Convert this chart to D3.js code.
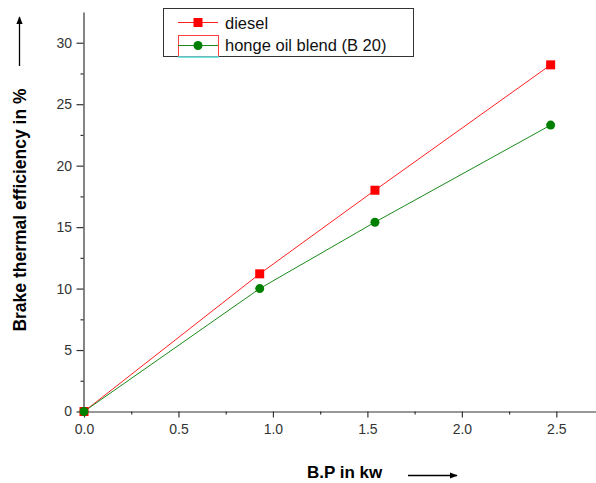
<!DOCTYPE html>
<html>
<head>
<meta charset="utf-8">
<script src="https://cdn.jsdelivr.net/npm/d3@7"></script>
<style>
  body { margin: 0; background: #fff; }
  svg { display: block; font-family: Arial, "Liberation Sans", sans-serif; }
</style>
</head>
<body>
<svg width="596" height="483"></svg>
<script>
// data
const bp = [0, 0.93, 1.54, 2.47];
const diesel = [0, 11.2, 18.0, 28.2];
const honge = [0, 10.0, 15.4, 23.3];
const xTicks = [0, 0.5, 1.0, 1.5, 2.0, 2.5];
const yTicks = [0, 5, 10, 15, 20, 25, 30];
const seriesNames = ["diesel", "honge oil blend (B 20)"];

const svg = d3.select("svg");
const x = d3.scaleLinear().domain([0, 2.71]).range([84, 596]);
const y = d3.scaleLinear().domain([0, 32.5]).range([411.5, 12]);

// minor ticks
const xMinor = d3.range(0.25, 2.7, 0.5);
const yMinor = d3.range(2.5, 32.5, 5);

const axX = svg.append("g").attr("transform", "translate(0,411.5)")
  .call(d3.axisBottom(x).tickValues(xTicks).tickFormat(d3.format(".1f")).tickSize(6).tickSizeOuter(0));
svg.append("g").attr("transform", "translate(0,411.5)")
  .call(d3.axisBottom(x).tickValues(xMinor).tickFormat("").tickSize(3).tickSizeOuter(0))
  .select(".domain").remove();
const axY = svg.append("g").attr("transform", "translate(83.5,0)")
  .call(d3.axisLeft(y).tickValues(yTicks).tickSize(7).tickSizeOuter(0));
svg.append("g").attr("transform", "translate(83.5,0)")
  .call(d3.axisLeft(y).tickValues(yMinor).tickFormat("").tickSize(3).tickSizeOuter(0))
  .select(".domain").remove();

svg.selectAll(".domain, .tick line").attr("stroke", "#333").attr("stroke-width", 1.2);
svg.selectAll(".tick text").attr("font-size", 14).attr("fill", "#333");
axX.selectAll(".tick text").attr("dy", "0.95em");
axY.selectAll(".tick text").attr("dx", "-0.1em");

// series
const line = d3.line().x(d => x(d[0])).y(d => y(d[1]));
const dPts = bp.map((v, i) => [v, diesel[i]]);
const hPts = bp.map((v, i) => [v, honge[i]]);

svg.append("path").datum(dPts).attr("d", line)
  .attr("fill", "none").attr("stroke", "#ff2020").attr("stroke-width", 1);
svg.append("path").datum(hPts).attr("d", line)
  .attr("fill", "none").attr("stroke", "#1a8a1a").attr("stroke-width", 1);

svg.selectAll(".sq").data(dPts).enter().append("rect")
  .attr("class", "sq")
  .attr("x", d => x(d[0]) - 4.5).attr("y", d => y(d[1]) - 4.5)
  .attr("width", 9).attr("height", 9).attr("fill", "#ff0000");
svg.selectAll(".dot").data(hPts).enter().append("circle")
  .attr("class", "dot")
  .attr("cx", d => x(d[0])).attr("cy", d => y(d[1]))
  .attr("r", 4.5).attr("fill", "#008000");

// legend
const lg = svg.append("g");
lg.append("rect").attr("x", 163.5).attr("y", 8.5).attr("width", 250).attr("height", 48)
  .attr("fill", "#fff").attr("stroke", "#333").attr("stroke-width", 1);
lg.append("rect").attr("x", 178.5).attr("y", 35.5).attr("width", 40).attr("height", 21)
  .attr("fill", "none").attr("stroke", "#ff4040").attr("stroke-width", 1);
lg.append("line").attr("x1", 178).attr("x2", 219).attr("y1", 57).attr("y2", 57)
  .attr("stroke", "#40e0e0").attr("stroke-width", 1.5);
lg.append("line").attr("x1", 178).attr("x2", 218).attr("y1", 22.5).attr("y2", 22.5)
  .attr("stroke", "#ff2020");
lg.append("rect").attr("x", 193.5).attr("y", 18).attr("width", 9).attr("height", 9).attr("fill", "#ff0000");
lg.append("line").attr("x1", 178).attr("x2", 218).attr("y1", 45.5).attr("y2", 45.5)
  .attr("stroke", "#1a8a1a");
lg.append("circle").attr("cx", 198).attr("cy", 45.5).attr("r", 4.5).attr("fill", "#008000");
lg.selectAll("text").data(seriesNames).enter().append("text")
  .attr("x", 225).attr("y", (d, i) => 28.5 + i * 22.5)
  .attr("font-size", 16.5).attr("fill", "#111").text(d => d);

// axis titles
svg.append("text")
  .attr("transform", "translate(26,210) rotate(-90)")
  .attr("text-anchor", "middle").attr("font-size", 17.5).attr("font-weight", "bold")
  .text("Brake thermal efficiency in %");
svg.append("text").attr("x", 307).attr("y", 478).attr("font-size", 17).attr("font-weight", "bold")
  .text("B.P in kw");

// arrows
svg.append("defs").append("marker").attr("id", "ah")
  .attr("viewBox", "0 0 10 10").attr("refX", 9).attr("refY", 5)
  .attr("markerWidth", 8).attr("markerHeight", 6).attr("orient", "auto")
  .append("path").attr("d", "M0,1L10,5L0,9Z").attr("fill", "#000");
svg.append("line").attr("x1", 19.5).attr("x2", 19.5).attr("y1", 66).attr("y2", 17)
  .attr("stroke", "#000").attr("stroke-width", 1.3).attr("marker-end", "url(#ah)");
svg.append("line").attr("x1", 408).attr("x2", 457).attr("y1", 475.5).attr("y2", 475.5)
  .attr("stroke", "#000").attr("stroke-width", 1.3).attr("marker-end", "url(#ah)");
</script>
</body>
</html>
